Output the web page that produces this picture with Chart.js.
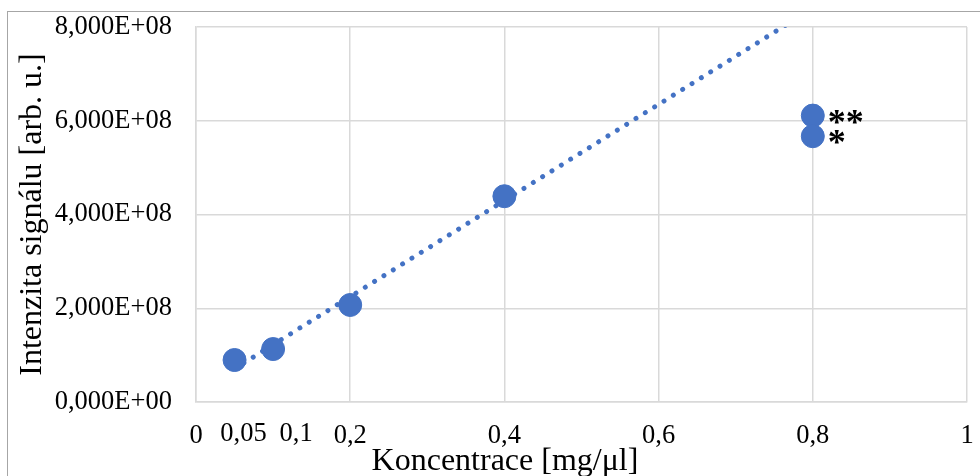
<!DOCTYPE html>
<html>
<head>
<meta charset="utf-8">
<script src="https://cdn.jsdelivr.net/npm/chart.js@4"></script>
<style>
  html, body { margin: 0; padding: 0; background: #fff; }
  #wrap { width: 980px; height: 476px; }
</style>
</head>
<body>
<div id="wrap"><canvas id="chart"></canvas></div>
<script>
// measured points
const concentrations = [0.05, 0.1, 0.2, 0.4, 0.8, 0.8];
const intensities = [0.896e8, 1.13e8, 2.07e8, 4.39e8, 6.11e8, 5.67e8];
const pointMarks = ['', '', '', '', '**', '*'];

// linear trendline (first four points), endpoints
const trendX = [0.05, 0.8];
const trendY = [0.71e8, 8.4e8];

const xTicks = [0, 0.05, 0.1, 0.2, 0.4, 0.6, 0.8, 1];
const yTicks = [0, 2e8, 4e8, 6e8, 8e8];
// the two crowded labels sit a bit right of their tick in the original
const shiftedTicks = { 0.05: 9, 0.1: 23 };

const xTitle = 'Koncentrace [mg/μl]';
const yTitle = 'Intenzita signálu [arb. u.]';

const blue = '#4472C4';
const gridGray = '#d9d9d9';
const serif = "'Liberation Serif', 'Times New Roman', serif";
const tickSize = 26.5;

const sci = (v) => {
  const [m, e] = v.toExponential(3).split('e');
  const n = parseInt(e, 10);
  return m.replace('.', ',') + 'E' + (n < 0 ? '-' : '+') + String(Math.abs(n)).padStart(2, '0');
};
const dec = (v) => String(v).replace('.', ',');

const framePlugin = {
  id: 'frame',
  beforeDraw(chart) {
    const ctx = chart.ctx;
    ctx.save();
    ctx.strokeStyle = '#a6a6a6';
    ctx.lineWidth = 1;
    ctx.strokeRect(7.5, 11.5, 1100, 600);
    ctx.restore();
  }
};

const marksPlugin = {
  id: 'marks',
  afterDatasetsDraw(chart) {
    const ctx = chart.ctx;
    const meta = chart.getDatasetMeta(0);
    ctx.save();
    ctx.fillStyle = '#000';
    ctx.font = 'bold 36px ' + serif;
    ctx.textAlign = 'left';
    ctx.textBaseline = 'alphabetic';
    meta.data.forEach((pt, i) => {
      if (pointMarks[i]) {
        ctx.fillText(pointMarks[i], pt.x + 15, pt.y + 18);
      }
    });
    // shifted x tick labels
    const xs = chart.scales.x;
    ctx.font = tickSize + 'px ' + serif;
    ctx.textAlign = 'center';
    ctx.textBaseline = 'top';
    Object.keys(shiftedTicks).forEach(k => {
      const v = parseFloat(k);
      ctx.fillText(dec(v), xs.getPixelForValue(v) + shiftedTicks[k], xs.top + 19);
    });
    // x axis title, sits left of the plot centre in the original
    ctx.font = '32px ' + serif;
    ctx.textBaseline = 'alphabetic';
    ctx.fillText(xTitle, 505, 470);
    ctx.restore();
  }
};

new Chart(document.getElementById('chart'), {
  type: 'scatter',
  data: {
    datasets: [
      {
        label: 'Intenzita',
        data: concentrations.map((x, i) => ({ x: x, y: intensities[i] })),
        backgroundColor: blue,
        borderColor: blue,
        pointRadius: 11.5,
        pointHoverRadius: 11.5,
        order: 1
      },
      {
        label: 'Trend',
        type: 'line',
        data: trendX.map((x, i) => ({ x: x, y: trendY[i] })),
        borderColor: blue,
        borderWidth: 5,
        borderDash: [0.001, 11],
        borderCapStyle: 'round',
        pointRadius: 0,
        fill: false,
        clip: 0,
        order: 2
      }
    ]
  },
  options: {
    responsive: true,
    maintainAspectRatio: false,
    animation: false,
    layout: { padding: { left: 0, right: 13, top: 27, bottom: 0 } },
    plugins: {
      legend: { display: false },
      tooltip: { enabled: false }
    },
    scales: {
      x: {
        type: 'linear',
        min: 0,
        max: 1,
        afterBuildTicks: (scale) => { scale.ticks = xTicks.map(v => ({ value: v })); },
        afterFit: (scale) => {
          scale.height = 74;
          scale.paddingLeft = 0;
          scale.paddingRight = 0;
        },
        grid: {
          drawTicks: false,
          color: (c) => (c.tick && shiftedTicks[c.tick.value] !== undefined) ? 'rgba(0,0,0,0)' : gridGray,
          lineWidth: 1.5
        },
        border: { color: gridGray, width: 1.5 },
        ticks: {
          autoSkip: false,
          maxRotation: 0,
          padding: 18,
          color: '#000',
          font: { family: serif, size: tickSize },
          callback: (v) => shiftedTicks[v] !== undefined ? '' : dec(v)
        },
        title: { display: false }
      },
      y: {
        min: 0,
        max: 8e8,
        afterBuildTicks: (scale) => { scale.ticks = yTicks.map(v => ({ value: v })); },
        afterFit: (scale) => {
          scale.width = 196;
          scale.paddingTop = 0;
          scale.paddingBottom = 0;
        },
        grid: { drawTicks: false, color: gridGray, lineWidth: 1.5 },
        border: { color: gridGray, width: 1.5 },
        ticks: {
          padding: 24,
          color: '#000',
          font: { family: serif, size: tickSize },
          callback: (v) => sci(v)
        },
        title: {
          display: true,
          text: yTitle,
          color: '#000',
          font: { family: serif, size: 32 },
          padding: { top: 13, bottom: 0 }
        }
      }
    }
  },
  plugins: [framePlugin, marksPlugin]
});
</script>
</body>
</html>
